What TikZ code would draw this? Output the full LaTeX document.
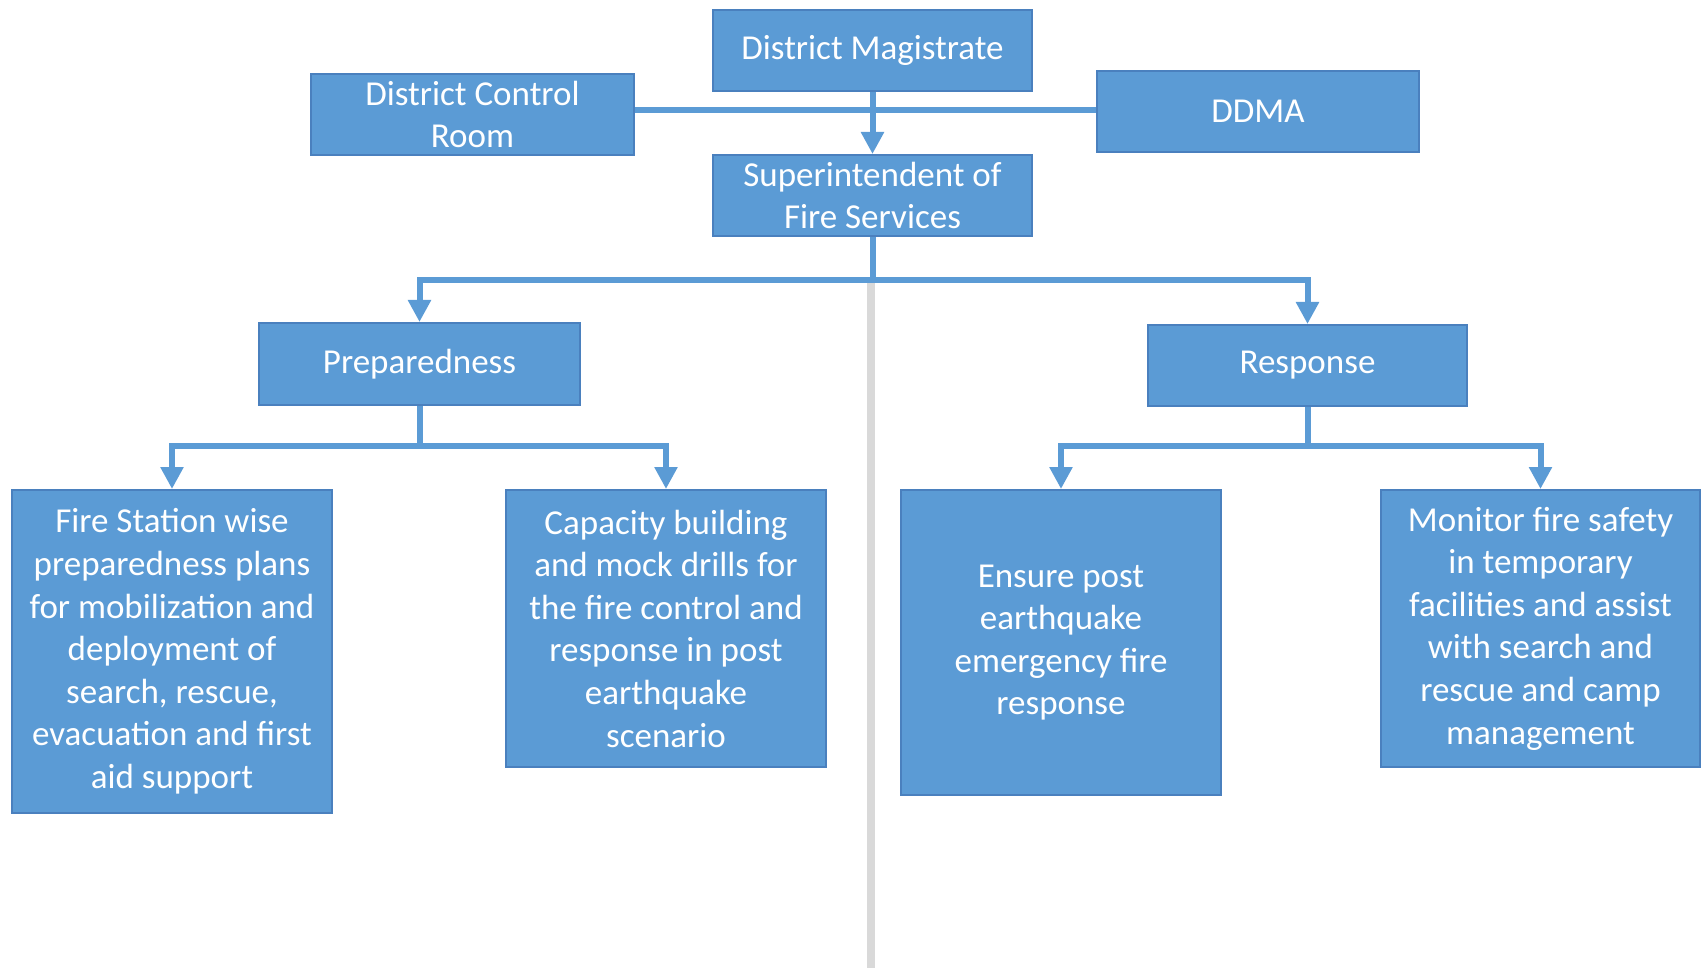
\documentclass[tikz,border=0pt]{standalone}
\usepackage{fontspec}
\setmainfont{Carlito}
\usetikzlibrary{arrows.meta}
\definecolor{boxblue}{HTML}{5B9BD5}
\definecolor{boxedge}{HTML}{4A80BE}
\definecolor{spine}{HTML}{D9D9D9}
\begin{document}
\begin{tikzpicture}[x=1pt,y=-1pt,
  box/.style={rectangle, fill=boxblue, draw=boxedge, line width=2pt,
    inner sep=0pt, align=center, text=white,
    font=\fontsize{35}{42.6}\selectfont},
  link/.style={draw=boxblue, line width=6pt},
  arrowlink/.style={link, -{Triangle[width=22pt,length=22pt]}}]
\useasboundingbox (0,0) rectangle (1701,968);

% grey divider running down the middle
\draw[spine, line width=8pt] (871,280) -- (871,968);

% top tier
\node[box, minimum width=319pt, minimum height=81pt] (dm) at (872.5,50.5) {District Magistrate};
\node[box, minimum width=323pt, minimum height=81pt] (dcr) at (472.5,114.5) {District Control\\Room};
\node[box, minimum width=322pt, minimum height=81pt] (ddma) at (1258,111.5) {DDMA};
\node[box, minimum width=319pt, minimum height=81pt] (sfs) at (872.5,195.5) {Superintendent of\\Fire Services};

% second tier
\node[box, minimum width=321pt, minimum height=82pt] (prep) at (419.5,364) {Preparedness};
\node[box, minimum width=319pt, minimum height=81pt] (resp) at (1307.5,365.5) {Response};

% third tier
\node[box, minimum width=320pt, minimum height=323pt] (fire) at (172,651.5)
  {Fire Station wise\\preparedness plans\\for mobilization and\\deployment of\\search, rescue,\\evacuation and first\\aid support};
\node[box, minimum width=320pt, minimum height=277pt] (cap) at (666,628.5)
  {Capacity building\\and mock drills for\\the fire control and\\response in post\\earthquake\\scenario};
\node[box, minimum width=320pt, minimum height=305pt] (ens) at (1061,642.5)
  {Ensure post\\earthquake\\emergency fire\\response};
\node[box, minimum width=319pt, minimum height=277pt] (mon) at (1540.5,628.5)
  {Monitor fire safety\\in temporary\\facilities and assist\\with search and\\rescue and camp\\management};

% junction points of the connectors
\coordinate (hub) at (872.5,110);
\coordinate (split1) at (872.5,280);
\coordinate (split2) at (419.5,446);
\coordinate (split3) at (1307.5,446);

% connectors
\draw[link] (hub -| dcr.east) -- (hub -| ddma.west);
\draw[arrowlink] (dm.south) -- (sfs.north);
\draw[link] (sfs.south) -- (split1);
\draw[arrowlink] (split1) -| (prep.north);
\draw[arrowlink] (split1) -| (resp.north);
\draw[link] (prep.south) -- (split2);
\draw[arrowlink] (split2) -| (fire.north);
\draw[arrowlink] (split2) -| (cap.north);
\draw[link] (resp.south) -- (split3);
\draw[arrowlink] (split3) -| (ens.north);
\draw[arrowlink] (split3) -| (mon.north);
\end{tikzpicture}
\end{document}
